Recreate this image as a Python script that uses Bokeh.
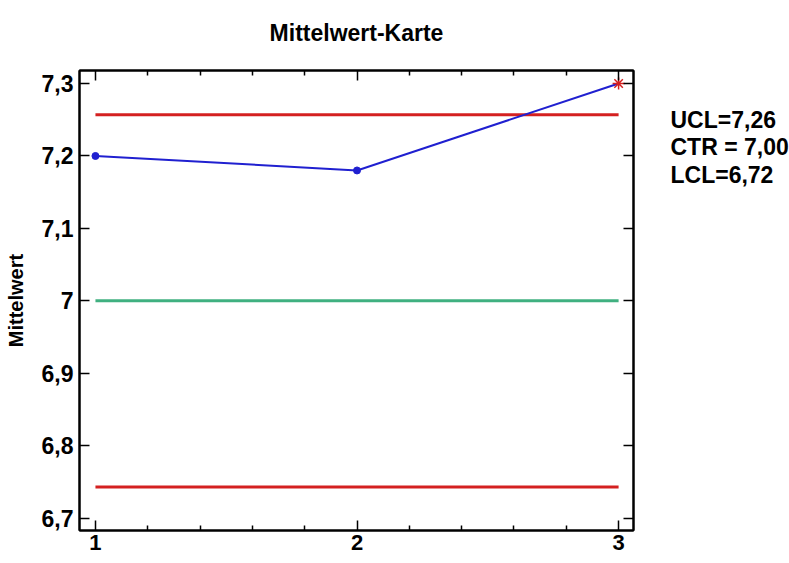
from bokeh.plotting import figure
from bokeh.embed import file_html
from bokeh.resources import INLINE
from bokeh.layouts import row, column
from bokeh.models import (Range1d, LinearAxis, FixedTicker, CustomJSTickFormatter, Label)

samples = [1, 2, 3]
means = [7.20, 7.18, 7.30]
ucl = 7.257
ctr = 7.00
lcl = 6.743
in_control = [True, True, False]
y_ticks = [6.7, 6.8, 6.9, 7.0, 7.1, 7.2, 7.3]
x_ticks = [1, 2, 3]
x_minor = [1.2, 1.4, 1.6, 1.8, 2.2, 2.4, 2.6, 2.8]
side_texts = ["UCL=7,26", "CTR = 7,00", "LCL=6,72"]
side_y = [7.249, 7.212, 7.174]
title_text = "Mittelwert-Karte"

FONT = "Liberation Sans"
Y0, Y1 = 6.683, 7.318

# title strip
t = figure(frame_width=789, frame_height=52, output_backend="svg", toolbar_location=None,
           x_range=Range1d(0, 789), y_range=Range1d(0, 52),
           min_border_left=0, min_border_right=0, min_border_top=0, min_border_bottom=0)
t.axis.visible = False
t.grid.visible = False
t.outline_line_color = None
t.border_fill_color = "white"
t.add_layout(Label(x=356, y=20, text=title_text, text_font=FONT, text_font_size="23px",
                   text_font_style="bold", text_color="black", text_align="center",
                   text_baseline="alphabetic"))

p = figure(frame_width=554, frame_height=460, output_backend="svg", toolbar_location=None,
           x_range=Range1d(0.939, 3.057), y_range=Range1d(Y0, Y1),
           min_border_left=79, min_border_right=10, min_border_top=18, min_border_bottom=31)
p.grid.visible = False
p.outline_line_color = "black"
p.outline_line_width = 2
p.background_fill_color = "white"
p.border_fill_color = "white"

fmt = CustomJSTickFormatter(code="""
var s = (Math.round(tick*10)/10).toString();
return s.replace('.', ',');
""")
blank = CustomJSTickFormatter(code="return '';")

def style_axis(ax):
    ax.axis_line_width = 2
    ax.axis_line_color = "black"
    ax.major_tick_in = 10
    ax.major_tick_out = 0
    ax.major_tick_line_width = 1.5
    ax.major_tick_line_color = "black"
    ax.minor_tick_in = 5
    ax.minor_tick_out = 0
    ax.minor_tick_line_width = 1.5
    ax.minor_tick_line_color = "black"
    ax.major_label_text_font = FONT
    ax.major_label_text_font_size = "23px"
    ax.major_label_text_font_style = "bold"
    ax.major_label_text_color = "black"

xb = p.xaxis[0]
xb.ticker = FixedTicker(ticks=x_ticks, minor_ticks=x_minor)
xb.formatter = fmt
style_axis(xb)
xb.major_label_text_font_size = "22px"
xb.major_label_standoff = 4

yl = p.yaxis[0]
yl.ticker = FixedTicker(ticks=y_ticks, minor_ticks=[])
yl.formatter = fmt
style_axis(yl)
yl.major_label_standoff = 6
yl.axis_label = "Mittelwert"
yl.axis_label_text_font = FONT
yl.axis_label_text_font_size = "20px"
yl.axis_label_text_font_style = "bold"
yl.axis_label_text_color = "black"
yl.axis_label_standoff = 12

xt = LinearAxis(ticker=FixedTicker(ticks=x_ticks, minor_ticks=x_minor), formatter=blank)
style_axis(xt)
xt.major_label_standoff = 0
p.add_layout(xt, "above")
yr = LinearAxis(ticker=FixedTicker(ticks=y_ticks, minor_ticks=[]), formatter=blank)
style_axis(yr)
yr.major_label_standoff = 0
p.add_layout(yr, "right")

x0, x1 = samples[0], samples[-1]
p.line([x0, x1], [ucl, ucl], line_color="#D42020", line_width=3)
p.line([x0, x1], [lcl, lcl], line_color="#D42020", line_width=3)
p.line([x0, x1], [ctr, ctr], line_color="#40B080", line_width=3)

p.line(samples, means, line_color="#2020D0", line_width=2)
xs_in = [x for x, ok in zip(samples, in_control) if ok]
ys_in = [y for y, ok in zip(means, in_control) if ok]
xs_out = [x for x, ok in zip(samples, in_control) if not ok]
ys_out = [y for y, ok in zip(means, in_control) if not ok]
p.scatter(xs_in, ys_in, marker="circle", size=7, fill_color="#2020D0", line_color="#2020D0")
p.scatter(xs_out, ys_out, marker="asterisk", size=12, line_color="#D42020", line_width=1.5)

# side panel with the control-limit texts
q = figure(frame_width=146, frame_height=460, output_backend="svg", toolbar_location=None,
           x_range=Range1d(0, 146), y_range=Range1d(Y0, Y1),
           min_border_left=0, min_border_right=0, min_border_top=18, min_border_bottom=31)
q.axis.visible = False
q.grid.visible = False
q.outline_line_color = None
q.border_fill_color = "white"
for txt, yy in zip(side_texts, side_y):
    q.add_layout(Label(x=27, y=yy, text=txt, text_font=FONT, text_font_size="23px",
                       text_font_style="bold", text_color="black", text_baseline="alphabetic"))

layout = column(t, row(p, q))
open("out.html", "w").write(file_html(layout, INLINE))
